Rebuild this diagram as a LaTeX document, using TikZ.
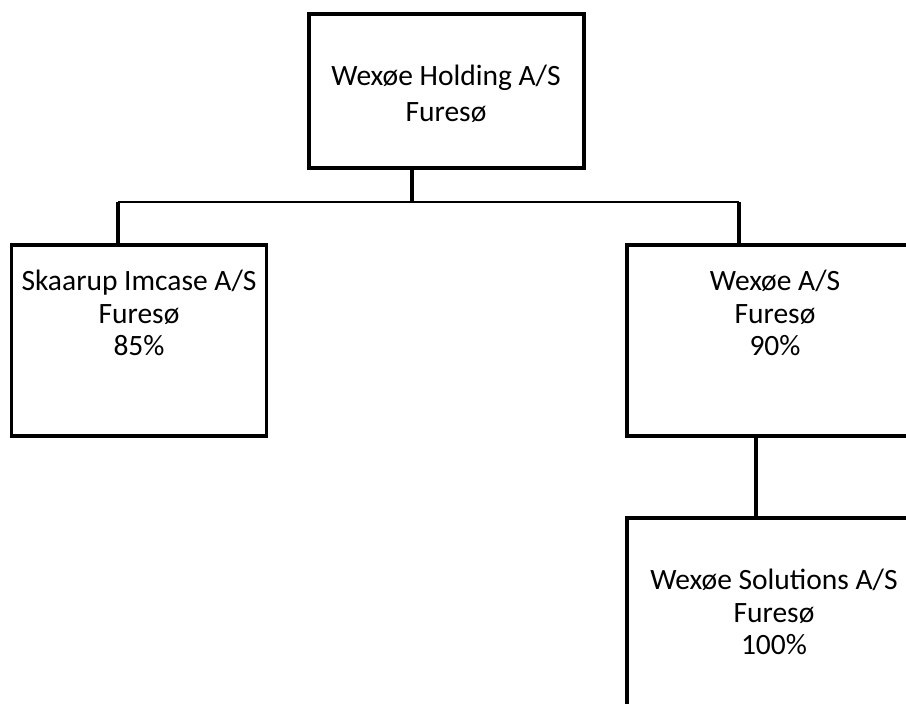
\documentclass[tikz,border=0pt]{standalone}
\usepackage{fontspec}
\setmainfont{Carlito}
\begin{document}
\begin{tikzpicture}[x=1pt,y=-1pt,
  orgbox/.style={draw, line width=3.3pt, inner sep=0pt, rectangle},
  lbl/.style={align=center, inner sep=0pt, font=\fontsize{29.5}{32.5}\selectfont},
  conn/.style={line width=3.3pt},
  bus/.style={line width=2.2pt}]
\useasboundingbox (0,0) rectangle (906,704);
\clip (0,0) rectangle (906,704);
\fill[white] (0,0) rectangle (906,704);
% boxes
\node[orgbox, minimum width=275pt, minimum height=154pt] (top) at (446.5,91) {};
\node[orgbox, minimum width=255pt, minimum height=191pt] (left) at (139,340.5) {};
\node[orgbox, minimum width=298pt, minimum height=191pt] (right) at (776,340.5) {};
\node[orgbox, minimum width=298pt, minimum height=194pt] (bottom) at (776,615) {};
% texts
\node[lbl, font=\fontsize{29.5}{36}\selectfont] (ttop) at (446,94) {Wexøe Holding A/S\\Furesø};
\node[lbl] (tleft) at (139,313) {Skaarup Imcase A/S\\Furesø\\85\%};
\node[lbl] (tright) at (775,313) {Wexøe A/S\\Furesø\\90\%};
\node[lbl] (tbottom) at (774,612) {Wexøe Solutions A/S\\Furesø\\100\%};
% connectors
\coordinate (j) at (412,202);
\coordinate (bl) at (118,202);
\coordinate (br) at (739,202);
\coordinate (cx) at (756,478);
\draw[conn] (top.south -| j) -- ([yshift=1pt]j);
\draw[bus] (bl) -- (br);
\draw[conn] (bl) -- (bl |- left.north);
\draw[conn] (br) -- (br |- right.north);
\draw[conn] (right.south -| cx) -- (bottom.north -| cx);
\end{tikzpicture}
\end{document}
